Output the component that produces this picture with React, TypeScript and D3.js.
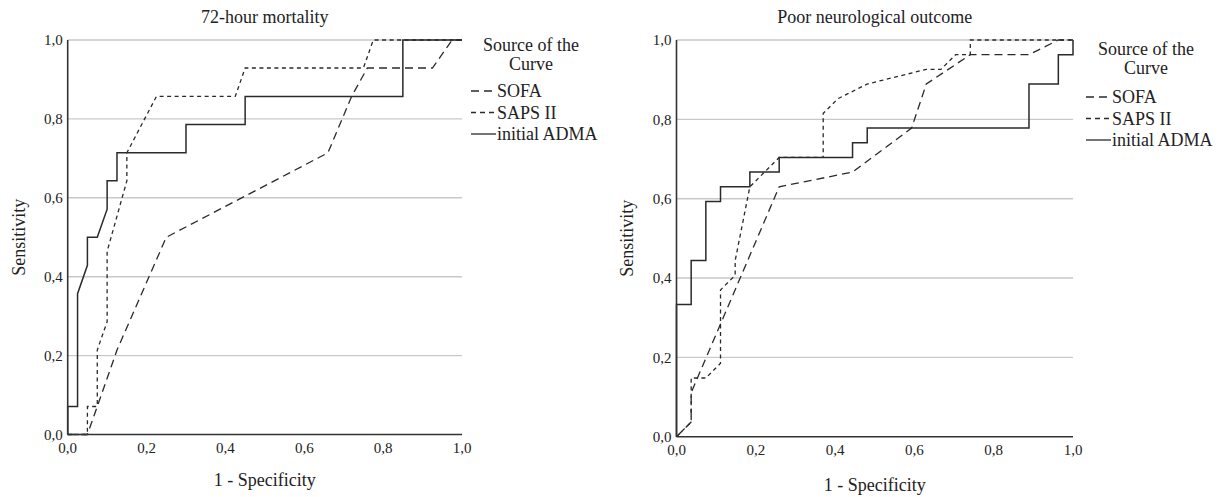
import React from "react";
import * as d3 from "d3";

type Pt = [number, number];

// Axis ticks and labels (decimal comma)
const tickValues = [0, 0.2, 0.4, 0.6, 0.8, 1.0];
const tickLabels = ["0,0", "0,2", "0,4", "0,6", "0,8", "1,0"];
const gridValues = [0.2, 0.4, 0.6, 0.8, 1.0];

const seriesNames = ["SOFA", "SAPS II", "initial ADMA"];
const legendTitle = ["Source of the", "Curve"];
const xTitle = "1 - Specificity";
const yTitle = "Sensitivity";
const panelTitles = ["72-hour mortality", "Poor neurological outcome"];

// ROC curves: [1 - specificity, sensitivity]
const mortalitySofa: Pt[] = [
  [0, 0], [0.05, 0], [0.075, 0.071], [0.125, 0.214], [0.25, 0.5], [0.66, 0.714],
  [0.72, 0.857], [0.76, 0.929], [0.925, 0.929], [0.975, 1], [1, 1],
];
const mortalitySaps: Pt[] = [
  [0, 0], [0.05, 0], [0.05, 0.071], [0.075, 0.071], [0.075, 0.214], [0.1, 0.286],
  [0.1, 0.464], [0.15, 0.643], [0.15, 0.714], [0.225, 0.857], [0.425, 0.857],
  [0.45, 0.929], [0.75, 0.929], [0.775, 1], [1, 1],
];
const mortalityAdma: Pt[] = [
  [0, 0], [0, 0.071], [0.025, 0.071], [0.025, 0.357], [0.05, 0.429], [0.05, 0.5],
  [0.075, 0.5], [0.1, 0.571], [0.1, 0.643], [0.125, 0.643], [0.125, 0.714],
  [0.3, 0.714], [0.3, 0.786], [0.45, 0.786], [0.45, 0.857], [0.85, 0.857],
  [0.85, 1], [1, 1],
];

const outcomeSofa: Pt[] = [
  [0, 0], [0.037, 0.037], [0.037, 0.111], [0.259, 0.63], [0.444, 0.667],
  [0.593, 0.778], [0.63, 0.889], [0.741, 0.963], [0.889, 0.963], [0.963, 1], [1, 1],
];
const outcomeSaps: Pt[] = [
  [0, 0], [0.037, 0.037], [0.037, 0.148], [0.074, 0.148], [0.111, 0.185],
  [0.111, 0.37], [0.148, 0.407], [0.148, 0.444], [0.185, 0.63], [0.259, 0.704],
  [0.37, 0.704], [0.37, 0.815], [0.407, 0.852], [0.481, 0.889], [0.63, 0.926],
  [0.667, 0.926], [0.704, 0.963], [0.741, 0.963], [0.741, 1], [1, 1],
];
const outcomeAdma: Pt[] = [
  [0, 0], [0, 0.333], [0.037, 0.333], [0.037, 0.444], [0.074, 0.444], [0.074, 0.593],
  [0.111, 0.593], [0.111, 0.63], [0.185, 0.63], [0.185, 0.667], [0.259, 0.667],
  [0.259, 0.704], [0.444, 0.704], [0.444, 0.741], [0.481, 0.741], [0.481, 0.778],
  [0.889, 0.778], [0.889, 0.889], [0.963, 0.889], [0.963, 0.963], [1, 0.963], [1, 1],
];

const FONT = "'Liberation Serif', 'Times New Roman', serif";
const TEXT = "#222";
const LINE = "#2a2a2a";
const dashes = ["8,5", "4,3.5", undefined];
const sampleDashes = ["8,5", "5,4", undefined];

interface PanelProps {
  title: string;
  curves: Pt[][];
  x0: number;
  x1: number;
  yTop: number;
  yBottom: number;
  yLabelX: number;
  xLabelY: number;
  legendX: number;
  legendTitleY: number;
  legendItemY: number;
}

function Panel(p: PanelProps) {
  const x = d3.scaleLinear().domain([0, 1]).range([p.x0, p.x1]);
  const y = d3.scaleLinear().domain([0, 1]).range([p.yBottom, p.yTop]);
  const line = d3
    .line<Pt>()
    .x((d) => x(d[0]))
    .y((d) => y(d[1]));
  const cx = (p.x0 + p.x1) / 2;
  const cy = (p.yTop + p.yBottom) / 2;
  const legendCenter = p.legendX + 60;

  return (
    <g>
      <text x={cx} y={23} textAnchor="middle" fontSize={18} fill={TEXT}>
        {p.title}
      </text>

      {gridValues.map((v) => (
        <line key={v} x1={x(0)} x2={x(1)} y1={y(v)} y2={y(v)} stroke="#c9c9c9" strokeWidth={1.4} />
      ))}

      {p.curves.map((c, i) => (
        <path
          key={i}
          d={line(c) || ""}
          fill="none"
          stroke={LINE}
          strokeWidth={i === 2 ? 1.5 : 1.3}
          strokeDasharray={dashes[i]}
        />
      ))}

      <line x1={x(0)} x2={x(0)} y1={y(1)} y2={y(0)} stroke="#333" strokeWidth={1.6} />
      <line x1={x(0)} x2={x(1)} y1={y(0)} y2={y(0)} stroke="#333" strokeWidth={1.6} />

      {tickValues.map((v, i) => (
        <text key={"y" + v} x={x(0) - 5} y={y(v)} dy="0.35em" textAnchor="end" fontSize={15} fill={TEXT}>
          {tickLabels[i]}
        </text>
      ))}
      {tickValues.map((v, i) => (
        <text key={"x" + v} x={x(v)} y={y(0) + 18} textAnchor="middle" fontSize={15} fill={TEXT}>
          {tickLabels[i]}
        </text>
      ))}

      <text x={cx} y={p.xLabelY} textAnchor="middle" fontSize={18} fill={TEXT}>
        {xTitle}
      </text>
      <text
        transform={`translate(${p.yLabelX},${cy}) rotate(-90)`}
        textAnchor="middle"
        fontSize={18}
        fill={TEXT}
      >
        {yTitle}
      </text>

      {legendTitle.map((t, i) => (
        <text key={t} x={legendCenter} y={p.legendTitleY + i * 18.5} textAnchor="middle" fontSize={18} fill={TEXT}>
          {t}
        </text>
      ))}
      {seriesNames.map((name, i) => {
        const by = p.legendItemY + i * 21.5;
        return (
          <g key={name}>
            <line
              x1={p.legendX}
              x2={p.legendX + 25}
              y1={by - 6}
              y2={by - 6}
              stroke={LINE}
              strokeWidth={1.3}
              strokeDasharray={sampleDashes[i]}
            />
            <text x={p.legendX + 26} y={by} fontSize={18} fill={TEXT}>
              {name}
            </text>
          </g>
        );
      })}
    </g>
  );
}

export default function App() {
  return (
    <svg
      width={1229}
      height={497}
      style={{ position: "absolute", left: 0, top: 0, background: "#fff" }}
      fontFamily={FONT}
    >
      <rect width={1229} height={497} fill="#fff" />
      <Panel
        title={panelTitles[0]}
        curves={[mortalitySofa, mortalitySaps, mortalityAdma]}
        x0={67.7}
        x1={462}
        yTop={40}
        yBottom={434.5}
        yLabelX={25}
        xLabelY={486}
        legendX={471}
        legendTitleY={51}
        legendItemY={97}
      />
      <Panel
        title={panelTitles[1]}
        curves={[outcomeSofa, outcomeSaps, outcomeAdma]}
        x0={676.5}
        x1={1073}
        yTop={40}
        yBottom={436.7}
        yLabelX={633}
        xLabelY={491}
        legendX={1086}
        legendTitleY={55}
        legendItemY={103}
      />
    </svg>
  );
}
